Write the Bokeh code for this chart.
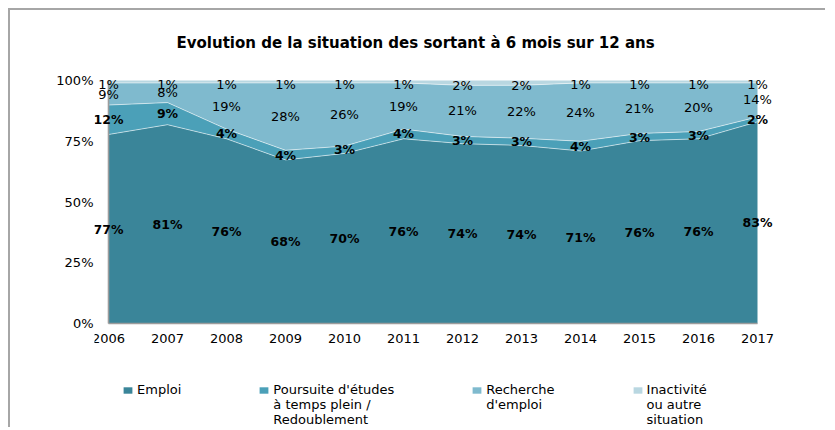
from bokeh.plotting import figure
from bokeh.models import (ColumnDataSource, FixedTicker, NumeralTickFormatter, Legend,
                          LegendItem, LabelSet, Range1d)
from bokeh.core.properties import value
from bokeh.embed import file_html
from bokeh.resources import INLINE

title_text = "Evolution de la situation des sortant à 6 mois sur 12 ans"
years = [2006, 2007, 2008, 2009, 2010, 2011, 2012, 2013, 2014, 2015, 2016, 2017]
emploi = [77, 81, 76, 68, 70, 76, 74, 74, 71, 76, 76, 83]
poursuite = [12, 9, 4, 4, 3, 4, 3, 3, 4, 3, 3, 2]
recherche = [9, 8, 19, 28, 26, 19, 21, 22, 24, 21, 20, 14]
inactivite = [1, 1, 1, 1, 1, 1, 2, 2, 1, 1, 1, 1]
series_labels = [["Emploi"],
                 ["Poursuite d'études", "à temps plein /", "Redoublement"],
                 ["Recherche", "d'emploi"],
                 ["Inactivité", "ou autre", "situation"]]
colors = ["#3a8599", "#4ba0b8", "#7fbace", "#b9d7e1"]
y_ticks = [0, 0.25, 0.5, 0.75, 1.0]

series = [emploi, poursuite, recherche, inactivite]
keys = ["e", "p", "r", "i"]
data = {"year": years}
n = len(years)
totals = [sum(s[k] for s in series) for k in range(n)]
cum = [0.0] * n
for key, s in zip(keys, series):
    frac = [s[k] / totals[k] for k in range(n)]
    data[key] = frac
    data["m_" + key] = [cum[k] + frac[k] / 2 for k in range(n)]
    cum = [cum[k] + frac[k] for k in range(n)]
    data["c_" + key] = list(cum)
    data["t_" + key] = ["%d%%" % v for v in s]
src = ColumnDataSource(data)

# layout (pixels): plotted data area 649 x 243; the frame also holds the legend below it
data_w, data_h = 649, 243
pad_l, pad_r, pad_t, pad_b = 14, 20, 8, 104
xspan = years[-1] - years[0]
x_range = Range1d(years[0] - pad_l * xspan / data_w, years[-1] + pad_r * xspan / data_w)
y_range = Range1d(0 - pad_b / data_h, 1 + pad_t / data_h)
frame_w = data_w + pad_l + pad_r
frame_h = data_h + pad_t + pad_b

p = figure(frame_width=frame_w, frame_height=frame_h, x_range=x_range, y_range=y_range,
           output_backend="svg", toolbar_location=None,
           min_border_left=84, min_border_right=48,
           min_border_top=59, min_border_bottom=0)
p.margin = (8, 0, 0, 8)
p.styles = {"border-left": "2px solid #a6a6a6", "border-top": "2px solid #a6a6a6"}
p.outline_line_color = None
p.grid.visible = False

rends = p.varea_stack(stackers=keys, x="year", color=colors, source=src)
for key in ["e", "p", "r"]:
    p.line(x="year", y="c_" + key, source=src, line_color="white", line_alpha=0.55, line_width=1)

# axis lines along the data area
p.line(x=[years[0], years[0]], y=[y_ticks[0], y_ticks[-1]], line_color="#9c9c9c", line_width=1.6)
p.line(x=[years[0], years[-1]], y=[y_ticks[0], y_ticks[0]], line_color="#9c9c9c", line_width=1.6)

for key, bold in zip(keys, [True, True, False, False]):
    ls = LabelSet(x="year", y="m_" + key, text="t_" + key, source=src,
                  text_align="center", text_baseline="middle",
                  y_offset=-3 if key == "i" else 0,
                  text_font=value("DejaVu Sans"),
                  text_font_size=value("12.5px" if bold else "13px"),
                  text_font_style=value("bold" if bold else "normal"), text_color="black")
    p.add_layout(ls)

p.title.text = title_text
p.title.align = "left"
p.title.offset = 82
p.title.text_font = "DejaVu Sans"
p.title.text_font_size = "15px"
p.title.text_font_style = "bold"
p.title.text_color = "black"
p.title.standoff = 42

for ax in (p.xaxis[0], p.yaxis[0]):
    ax.axis_line_color = None
    ax.major_tick_line_color = None
    ax.minor_tick_line_color = None
    ax.major_tick_out = 0
    ax.major_tick_in = 0
    ax.minor_tick_out = 0
    ax.major_label_text_font = "DejaVu Sans"
    ax.major_label_text_font_size = "13px"
    ax.major_label_text_color = "black"
p.yaxis.ticker = FixedTicker(ticks=y_ticks)
p.yaxis.formatter = NumeralTickFormatter(format="0%")
p.yaxis.major_label_standoff = 1
p.xaxis.ticker = FixedTicker(ticks=years)
p.xaxis.fixed_location = 0
p.xaxis.major_label_standoff = 10

# each label gets 5 lines so that the square sits beside its first text line
def legend_text(lines):
    body = list(lines) + [" "] * (3 - len(lines))
    return "\n".join([" ", " "] + body)

items = [LegendItem(label=legend_text(lab), renderers=[r]) for lab, r in zip(series_labels, rends)]
legend = Legend(items=items, orientation="horizontal", location=(28, 0),
                padding=0, margin=0, spacing=77, glyph_width=11, glyph_height=8,
                label_standoff=4, label_width=43, border_line_color=None,
                background_fill_alpha=0, label_text_font="DejaVu Sans",
                label_text_font_size="13px", label_text_line_height=1.23,
                label_text_color="black")
p.add_layout(legend)

open("out.html", "w").write(file_html(p, INLINE))
